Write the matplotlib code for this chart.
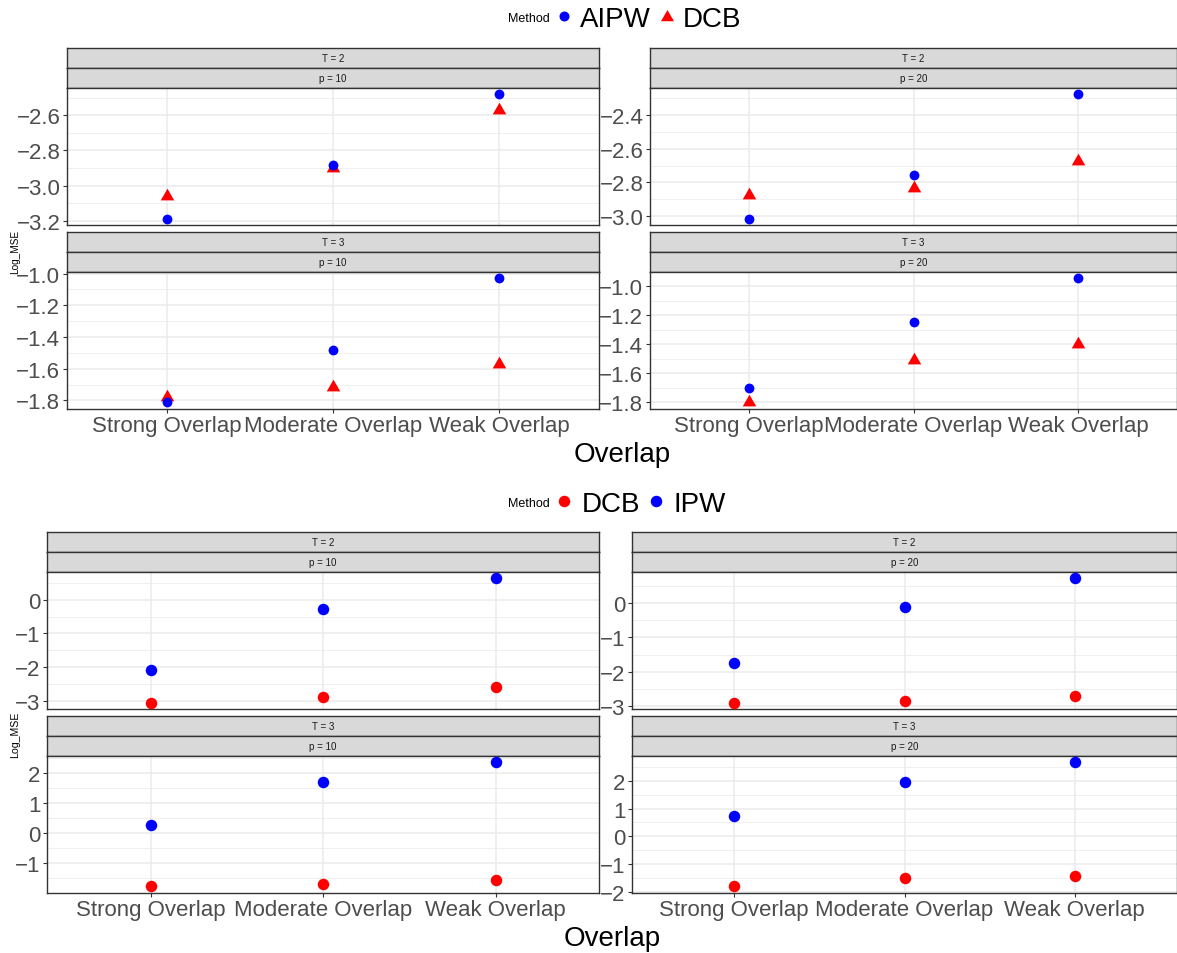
import matplotlib
matplotlib.use("Agg")
import matplotlib.pyplot as plt
from matplotlib.ticker import MultipleLocator, FuncFormatter
from matplotlib.lines import Line2D

plt.rcParams['font.family'] = ['Liberation Sans', 'DejaVu Sans']

# ---------------- data ----------------
categories = ["Strong Overlap", "Moderate Overlap", "Weak Overlap"]

# Figure A: AIPW vs DCB
aipw_T2_p10 = [-3.189, -2.883, -2.481]
dcb_T2_p10 = [-3.057, -2.898, -2.570]
aipw_T2_p20 = [-3.015, -2.755, -2.278]
dcb_T2_p20 = [-2.877, -2.835, -2.675]
aipw_T3_p10 = [-1.812, -1.483, -1.029]
dcb_T3_p10 = [-1.780, -1.713, -1.572]
aipw_T3_p20 = [-1.703, -1.248, -0.945]
dcb_T3_p20 = [-1.800, -1.506, -1.397]

# Figure B: DCB vs IPW
ipw_T2_p10 = [-2.098, -0.287, 0.640]
dcbB_T2_p10 = [-3.060, -2.894, -2.577]
ipw_T2_p20 = [-1.750, -0.127, 0.711]
dcbB_T2_p20 = [-2.893, -2.846, -2.690]
ipw_T3_p10 = [0.266, 1.690, 2.365]
dcbB_T3_p10 = [-1.787, -1.710, -1.580]
ipw_T3_p20 = [0.720, 1.964, 2.670]
dcbB_T3_p20 = [-1.810, -1.510, -1.416]

# ---------------- layout helpers ----------------
W, H = 1177, 954
fig = plt.figure(figsize=(W / 100, H / 100), dpi=100)

BLUE = '#0000FF'
RED = '#FF0000'
BORDER = '#333333'
GRID = '#EBEBEB'
TRI = [(0, 1), (-0.866, -0.5), (0.866, -0.5)]


def rect(x0, y0, x1, y1):
    return [x0 / W, 1 - y1 / H, (x1 - x0) / W, (y1 - y0) / H]


def pt(px):
    return px * 0.72


def strip(x0, y0, x1, y1, label):
    sa = fig.add_axes(rect(x0, y0, x1, y1))
    sa.set_facecolor('#D9D9D9')
    sa.set_xticks([])
    sa.set_yticks([])
    for s in sa.spines.values():
        s.set_color(BORDER)
        s.set_linewidth(1.0)
    sa.text(0.5, 0.5, label, ha='center', va='center', fontsize=7,
            color='#1A1A1A', transform=sa.transAxes)


def fmt_factory(dec):
    def f(v, pos):
        v = round(v, dec) + 0.0
        s = f"{v:.{dec}f}"
        return s.replace('-', '\u2212')
    return FuncFormatter(f)


def panel(x0, x1, ys, yb, T, p, series, bottom_row, step, dec):
    strip(x0, ys, x1, ys + 20, f"T = {T}")
    strip(x0, ys + 20, x1, ys + 40, f"p = {p}")
    ax = fig.add_axes(rect(x0, ys + 40, x1, yb))
    xs = list(range(len(categories)))
    allv = []
    for vals, color, marker, ms, z in series:
        ax.plot(xs, vals, linestyle='none', marker=marker, color=color,
                markersize=ms, markeredgewidth=0, zorder=z)
        allv += list(vals)
    lo, hi = min(allv), max(allv)
    e = (hi - lo) * 0.05
    ax.set_ylim(lo - e, hi + e)
    ax.set_xlim(-0.6, len(categories) - 0.4)
    ax.set_xticks(xs)
    ax.set_xticklabels(categories)
    ax.yaxis.set_major_locator(MultipleLocator(step))
    ax.yaxis.set_minor_locator(MultipleLocator(step / 2))
    ax.yaxis.set_major_formatter(fmt_factory(dec))
    ax.grid(which='major', color=GRID, linewidth=1.1)
    ax.grid(which='minor', axis='y', color=GRID, linewidth=0.55)
    ax.set_axisbelow(True)
    for s in ax.spines.values():
        s.set_color(BORDER)
        s.set_linewidth(1.0)
    ax.tick_params(which='major', length=2.75, width=0.8, color=BORDER,
                   labelcolor='#4D4D4D', labelsize=16, pad=2)
    ax.tick_params(which='minor', length=0)
    if not bottom_row:
        ax.tick_params(axis='x', bottom=False, labelbottom=False)
    return ax


def legend_marker(x, y, marker, color, ms):
    fig.add_artist(Line2D([x / W], [1 - y / H], transform=fig.transFigure,
                          marker=marker, color=color, markersize=ms,
                          markeredgewidth=0, linestyle='none'))


def ftext(x, y, s, **kw):
    fig.text(x / W, 1 - y / H, s, **kw)


# ---------------- Figure A ----------------
msA_c = pt(9.8)
msA_t = pt(15.6)
LA0, LA1, RA0, RA1 = 67, 599, 650, 1177
panel(LA0, LA1, 49, 226, 2, 10,
      [(dcb_T2_p10, RED, TRI, msA_t, 3), (aipw_T2_p10, BLUE, 'o', msA_c, 4)],
      False, 0.2, 1)
panel(RA0, RA1, 49, 226, 2, 20,
      [(dcb_T2_p20, RED, TRI, msA_t, 3), (aipw_T2_p20, BLUE, 'o', msA_c, 4)],
      False, 0.2, 1)
panel(LA0, LA1, 233, 409.5, 3, 10,
      [(dcb_T3_p10, RED, TRI, msA_t, 3), (aipw_T3_p10, BLUE, 'o', msA_c, 4)],
      True, 0.2, 1)
panel(RA0, RA1, 233, 409.5, 3, 20,
      [(dcb_T3_p20, RED, TRI, msA_t, 3), (aipw_T3_p20, BLUE, 'o', msA_c, 4)],
      True, 0.2, 1)

ftext(508, 22.5, "Method", fontsize=9, ha='left', va='baseline')
legend_marker(564, 17, 'o', BLUE, pt(10))
ftext(580, 26.7, "AIPW", fontsize=20, ha='left', va='baseline')
legend_marker(666.7, 17.5, TRI, RED, pt(15))
ftext(683, 26.7, "DCB", fontsize=20, ha='left', va='baseline')

ftext(622, 461.7, "Overlap", fontsize=20, ha='center', va='baseline')
ftext(15, 252, "Log_MSE", fontsize=7.2, rotation=90, ha='center', va='center')

# ---------------- Figure B ----------------
msB = pt(11.5)
LB0, LB1, RB0, RB1 = 47, 599, 632, 1177
panel(LB0, LB1, 533, 710, 2, 10,
      [(dcbB_T2_p10, RED, 'o', msB, 3), (ipw_T2_p10, BLUE, 'o', msB, 4)],
      False, 1, 0)
panel(RB0, RB1, 533, 710, 2, 20,
      [(dcbB_T2_p20, RED, 'o', msB, 3), (ipw_T2_p20, BLUE, 'o', msB, 4)],
      False, 1, 0)
panel(LB0, LB1, 717, 893.7, 3, 10,
      [(dcbB_T3_p10, RED, 'o', msB, 3), (ipw_T3_p10, BLUE, 'o', msB, 4)],
      True, 1, 0)
panel(RB0, RB1, 717, 893.7, 3, 20,
      [(dcbB_T3_p20, RED, 'o', msB, 3), (ipw_T3_p20, BLUE, 'o', msB, 4)],
      True, 1, 0)

ftext(508, 507, "Method", fontsize=9, ha='left', va='baseline')
legend_marker(564, 502, 'o', RED, pt(11.5))
ftext(582, 511.7, "DCB", fontsize=20, ha='left', va='baseline')
legend_marker(656, 502, 'o', BLUE, pt(11.5))
ftext(673, 511.7, "IPW", fontsize=20, ha='left', va='baseline')

ftext(612, 946.5, "Overlap", fontsize=20, ha='center', va='baseline')
ftext(15.5, 735, "Log_MSE", fontsize=7.6, rotation=90, ha='center', va='center')

fig.savefig("out.png", dpi=100)
